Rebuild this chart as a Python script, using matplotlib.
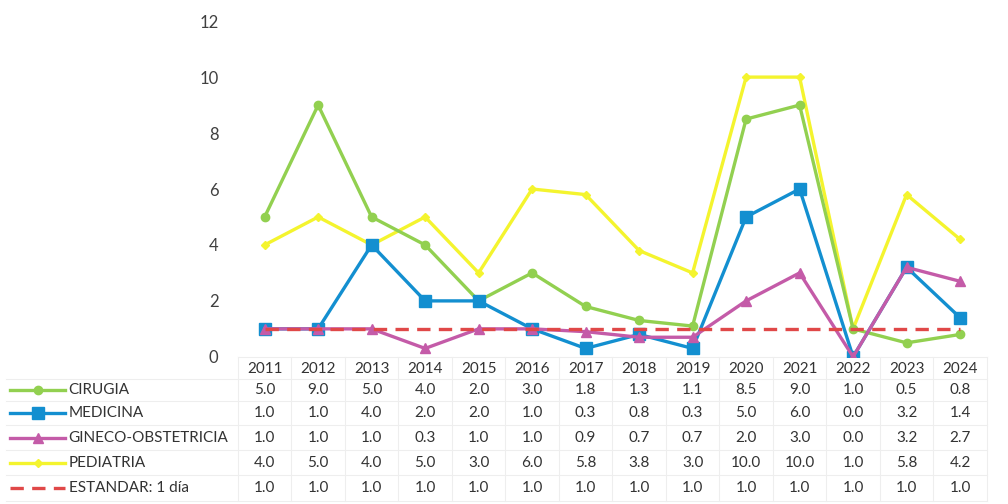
import matplotlib.pyplot as plt
from matplotlib.lines import Line2D

plt.rcParams['font.family'] = ['Lato', 'DejaVu Sans']

years = ['2011', '2012', '2013', '2014', '2015', '2016', '2017',
         '2018', '2019', '2020', '2021', '2022', '2023', '2024']
cirugia = [5.0, 9.0, 5.0, 4.0, 2.0, 3.0, 1.8, 1.3, 1.1, 8.5, 9.0, 1.0, 0.5, 0.8]
medicina = [1.0, 1.0, 4.0, 2.0, 2.0, 1.0, 0.3, 0.8, 0.3, 5.0, 6.0, 0.0, 3.2, 1.4]
gineco = [1.0, 1.0, 1.0, 0.3, 1.0, 1.0, 0.9, 0.7, 0.7, 2.0, 3.0, 0.0, 3.2, 2.7]
pediatria = [4.0, 5.0, 4.0, 5.0, 3.0, 6.0, 5.8, 3.8, 3.0, 10.0, 10.0, 1.0, 5.8, 4.2]
estandar = [1.0] * 14

names = ['CIRUGIA', 'MEDICINA', 'GINECO-OBSTETRICIA', 'PEDIATRIA', 'ESTANDAR: 1 día']
series = [cirugia, medicina, gineco, pediatria, estandar]
styles = [
    dict(color='#92D050', marker='o', ms=6, ls='-'),
    dict(color='#138FD0', marker='s', ms=8, ls='-'),
    dict(color='#C45BA8', marker='^', ms=7, ls='-'),
    dict(color='#F4F42E', marker='D', ms=4, ls='-'),
    dict(color='#E04848', marker=None, ms=0, ls=(0, (4, 2.5))),
]

fig = plt.figure(figsize=(10.08, 5.04), dpi=100)
ax = fig.add_axes([0.236, 0.292, 0.743, 0.666])

x = list(range(len(years)))
# orden de dibujo parecido a excel
order = [4, 3, 0, 1, 2]
for i in order:
    st = styles[i]
    ax.plot(x, series[i], color=st['color'], marker=st['marker'], markersize=st['ms'],
            linestyle=st['ls'], linewidth=2.4, zorder=3 if i != 4 else 4)

ax.set_xlim(-0.5, len(years) - 0.5)
ax.set_ylim(0, 12)
ax.set_yticks(range(0, 13, 2))
ax.tick_params(axis='y', length=0, pad=14, labelsize=12, labelcolor='#404040')
ax.set_xticks([])
for s in ax.spines.values():
    s.set_visible(False)

# tabla de datos debajo del grafico
row_y = [-0.098, -0.167, -0.241, -0.315, -0.390]
head_y = -0.036
tr = ax.get_xaxis_transform()
for j, yr in enumerate(years):
    ax.text(j, head_y, yr, transform=tr, ha='center', va='center', fontsize=11, color='#333333')
for r, (vals, yy) in enumerate(zip(series, row_y)):
    for j, v in enumerate(vals):
        ax.text(j, yy, f'{v:.1f}', transform=tr, ha='center', va='center', fontsize=11, color='#333333')
    st = styles[r]
    ax.add_line(Line2D([-0.304, -0.231], [yy, yy], transform=ax.transAxes, clip_on=False,
                       color=st['color'], linewidth=2.4, linestyle=st['ls']))
    if st['marker']:
        ax.add_line(Line2D([-0.2675], [yy], transform=ax.transAxes, clip_on=False,
                           color=st['color'], marker=st['marker'], markersize=st['ms']))
    ax.text(-0.226, yy, names[r], transform=ax.transAxes, ha='left', va='center',
            fontsize=11, color='#333333')

# lineas de la tabla (muy tenues)
grid_c = '#eeeeee'
for j in range(len(years) + 1):
    ax.add_line(Line2D([j - 0.5, j - 0.5], [0, -0.43], transform=tr, clip_on=False,
                       color=grid_c, linewidth=0.8))
for yy in [-0.065, -0.132, -0.204, -0.278, -0.352, -0.43]:
    ax.add_line(Line2D([-0.31, 1.0], [yy, yy], transform=ax.transAxes, clip_on=False,
                       color=grid_c, linewidth=0.8))
ax.add_line(Line2D([0, 1], [0, 0], transform=ax.transAxes, clip_on=False,
                   color=grid_c, linewidth=0.8))

fig.savefig('out.png', dpi=100)
